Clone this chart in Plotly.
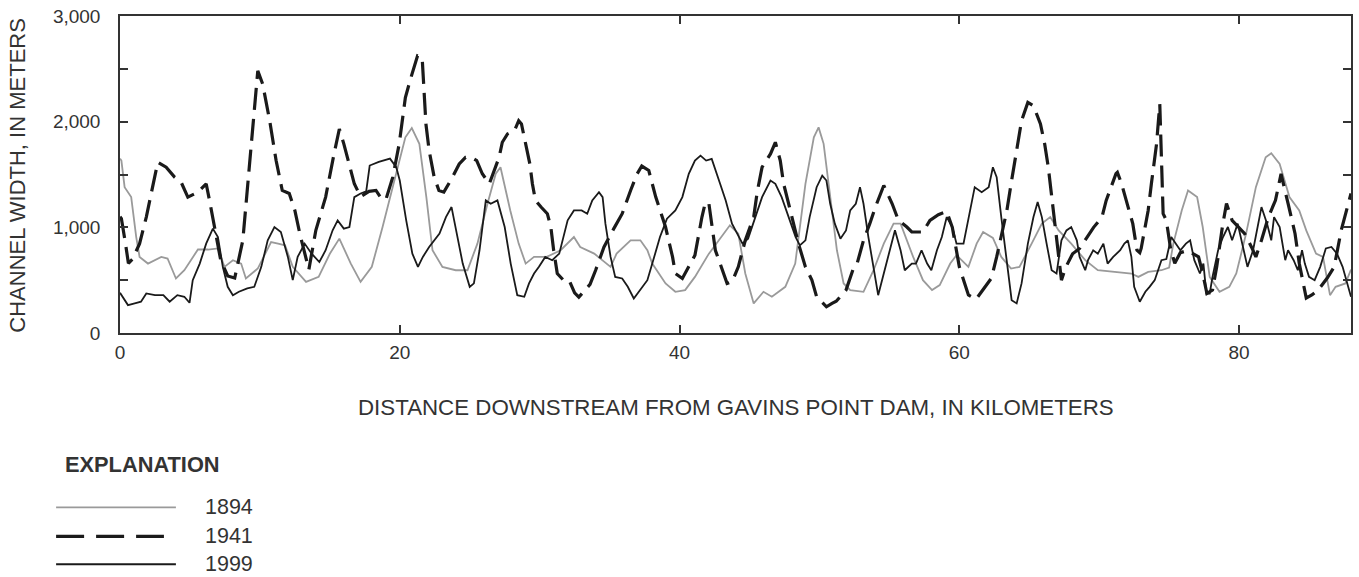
import plotly.graph_objects as go

# ---------------- data ----------------
km_1894 = [0.0, 0.1, 0.33, 0.8, 1.16, 1.4, 2.0, 2.95, 3.4, 4.0, 4.6, 5.57, 6.3, 7.0, 7.47, 8.07, 8.66, 9.0,
            9.85, 10.8, 11.3, 11.8, 12.35, 13.3, 14.2, 15.0, 15.68, 16.5, 17.2, 18.0, 18.77, 19.7, 20.4, 20.86,
            21.4, 21.9, 22.34, 23.05, 24.0, 24.84, 25.55, 26.27, 26.86, 27.2, 27.9, 28.5, 29.0, 29.6, 30.5, 31.5,
            32.45, 32.9, 33.9, 35.07, 35.5, 36.5, 37.2, 37.7, 38.05, 39.0, 39.7, 40.4, 41.1, 42.1, 43.0, 43.6,
            44.2, 44.7, 45.3, 46.0, 46.6, 47.56, 48.27, 49.0, 49.6, 49.94, 50.3, 50.8, 51.25, 51.73, 52.2, 53.15,
            53.87, 54.6, 55.3, 55.8, 56.7, 57.4, 58.05, 58.6, 59.35, 59.8, 60.65, 61.24, 61.7, 62.4, 63.0, 63.7,
            64.3, 65.17, 65.9, 66.5, 67.1, 68.0, 69.0, 69.9, 71.4, 72.3, 72.8, 73.5, 74.45, 75.0, 75.3, 75.9,
            76.35, 77.0, 77.4, 77.9, 78.6, 79.3, 79.8, 80.5, 81.2, 81.9, 82.3, 82.9, 83.6, 84.3, 84.8, 85.5,
            86.0, 86.5, 86.9, 87.6, 88.0]
width_1894 = [1650, 1632, 1380, 1286, 908, 720, 657, 720, 705, 516, 594, 790, 790, 800, 626, 689, 657, 516,
              610, 861, 846, 830, 626, 484, 531, 750, 893, 657, 484, 626, 1003, 1475, 1852, 1940,
              1790, 1286, 783, 626, 594, 594, 846, 1223, 1507, 1569, 1160, 846, 657, 720, 720, 783,
              908, 814, 751, 626, 751, 877, 877, 783, 657, 469, 390, 406, 531, 751, 908, 1019,
              940, 563, 280, 390, 343, 437, 657, 1412, 1852, 1946, 1790, 1286, 783, 469, 406, 390,
              594, 846, 1035, 1035, 720, 500, 406, 453, 657, 736, 626, 846, 956, 900, 720, 610,
              626, 846, 1035, 1097, 971, 846, 689, 594, 578, 563, 531, 578, 594, 620, 846, 1160,
              1349, 1286, 1003, 531, 390, 437, 563, 940, 1380, 1663, 1701, 1600, 1286, 1160, 971, 751,
              720, 358, 437, 469, 600]

km_1941 = [0.0, 0.1, 0.4, 0.6, 0.9, 1.4, 1.88, 2.36, 2.7, 3.3, 3.9, 4.37, 4.85, 5.57, 6.16, 6.4, 6.76, 7.2,
            7.7, 8.2, 8.78, 9.26, 9.6, 9.85, 10.2, 10.7, 11.16, 11.6, 12.1, 12.5, 12.85, 13.5, 14.0, 14.7, 15.3,
            15.68, 16.0, 16.4, 16.75, 17.2, 17.8, 18.3, 18.6, 19.0, 19.5, 19.96, 20.4, 20.8, 21.27, 21.6, 21.75,
            21.87, 22.1, 22.46, 22.8, 23.15, 23.77, 24.25, 24.7, 25.1, 25.5, 25.9, 26.4, 26.75, 27.1, 27.33, 27.7,
            28.2, 28.5, 28.7, 29.0, 29.3, 29.48, 29.7, 30.1, 30.55, 30.8, 31.0, 31.26, 31.7, 32.1, 32.5, 32.8,
            33.2, 33.6, 34.0, 34.6, 35.3, 35.9, 36.5, 36.97, 37.3, 37.8, 38.3, 38.6, 39.0, 39.5, 39.7, 40.2,
            40.65, 41.1, 41.6, 41.85, 42.1, 42.3, 42.56, 42.9, 43.4, 43.75, 44.2, 44.7, 45.3, 45.55, 45.9, 46.5,
            46.85, 47.2, 47.44, 47.8, 48.15, 48.5, 49.0, 49.46, 49.8, 50.5, 50.9, 51.2, 51.9, 52.4, 52.7, 53.15,
            53.6, 54.0, 54.6, 55.2, 55.65, 56.25, 56.6, 57.4, 57.9, 58.5, 59.1, 59.5, 60.0, 60.65, 61.2, 62.0,
            62.3, 62.67, 63.0, 63.4, 63.7, 64.1, 64.45, 64.9, 65.3, 65.8, 66.1, 66.36, 66.6, 66.83, 67.07, 67.3,
            67.6, 68.1, 68.6, 69.1, 69.6, 70.2, 70.5, 71.2, 71.3, 71.6, 72.1, 72.4, 72.7, 72.9, 73.0, 73.5,
            73.73, 74.1, 74.33, 74.45, 74.57, 74.8, 75.1, 75.4, 75.8, 76.3, 76.8, 77.1, 77.4, 77.7, 78.1, 78.4,
            78.8, 79.1, 79.5, 80.0, 80.4, 80.9, 81.2, 81.6, 82.1, 82.6, 83.0, 83.5, 84.0, 84.3, 84.8, 85.2,
            85.65, 86.3, 86.8, 87.3, 88.0]
width_1941 = [1100, 1082, 840, 660, 700, 846, 1097, 1412, 1616, 1569, 1475, 1427, 1286, 1333, 1412, 1255, 1003, 689,
              540, 520, 877, 1632, 2167, 2481, 2356, 2009, 1632, 1349, 1320, 1160, 943, 600, 972, 1286, 1695,
              1931, 1790, 1601, 1412, 1290, 1340, 1349, 1290, 1260, 1475, 1790, 2229, 2418, 2623, 2607, 2229,
              1978, 1726, 1475, 1349, 1333, 1475, 1600, 1663, 1663, 1632, 1507, 1412, 1538, 1663, 1805, 1884,
              1915, 2009, 1978, 1790, 1600, 1412, 1255, 1192, 1129, 1003, 783, 563, 500, 500, 380, 340,
              400, 460, 594, 814, 988, 1129, 1349, 1507, 1580, 1538, 1286, 1160, 1003, 720, 563, 516,
              626, 736, 1097, 1239, 1223, 1035, 783, 657, 469, 484, 626, 877, 1097, 1333, 1569, 1695,
              1805, 1632, 1412, 1223, 1035, 846, 626, 500, 343, 248, 280, 300, 406, 600, 660, 877,
              1035, 1192, 1396, 1223, 1066, 1003, 956, 956, 1066, 1120, 1150, 1000, 626, 360, 320, 470,
              520, 720, 908, 1160, 1412, 1726, 2009, 2182, 2150, 1978, 1790, 1569, 1286, 1003, 720, 500,
              620, 750, 800, 896, 1000, 1097, 1255, 1507, 1520, 1412, 1160, 1035, 783, 760, 800, 1160,
              1412, 1790, 2167, 1695, 1129, 1066, 800, 660, 760, 780, 740, 720, 563, 374, 406, 626,
              1000, 1226, 1066, 1000, 940, 810, 720, 877, 1100, 1255, 1507, 1226, 940, 660, 330, 360,
              406, 520, 626, 972, 1320]

km_1999 = [0.0, 0.1, 0.57, 1.05, 1.5, 1.88, 2.5, 3.1, 3.55, 4.1, 4.6, 4.97, 5.2, 5.7, 6.16, 6.64, 7.0, 7.35,
            7.7, 8.07, 8.5, 9.1, 9.6, 10.1, 10.56, 11.04, 11.5, 12.0, 12.35, 12.7, 13.2, 13.7, 14.25, 14.7, 15.2,
            15.56, 16.0, 16.4, 16.75, 17.2, 17.6, 17.85, 18.5, 19.3, 19.75, 20.0, 20.46, 20.9, 21.3, 21.65, 22.1,
            22.84, 23.3, 23.7, 24.1, 24.5, 25.0, 25.3, 25.7, 26.15, 26.5, 26.98, 27.5, 27.93, 28.4, 28.9, 29.24,
            29.6, 29.95, 30.4, 30.9, 31.4, 32.0, 32.45, 33.0, 33.4, 33.76, 34.24, 34.5, 34.7, 35.07, 35.4, 35.9,
            36.3, 36.73, 37.2, 37.7, 38.05, 38.6, 39.1, 39.7, 40.2, 40.66, 41.1, 41.5, 41.9, 42.3, 42.9, 43.3,
            43.75, 44.1, 44.5, 44.9, 45.4, 45.9, 46.5, 46.85, 47.3, 47.8, 48.3, 48.6, 49.0, 49.3, 49.8, 50.2,
            50.5, 50.77, 51.1, 51.5, 51.9, 52.2, 52.6, 52.9, 53.15, 53.5, 53.87, 54.2, 54.6, 55.05, 55.4, 55.8,
            56.1, 56.6, 56.9, 57.3, 57.7, 58.0, 58.4, 58.75, 59.1, 59.5, 59.8, 60.3, 60.77, 61.1, 61.6, 62.1,
            62.4, 62.67, 63.0, 63.4, 63.74, 64.1, 64.45, 64.9, 65.3, 65.6, 65.9, 66.24, 66.6, 66.95, 67.3, 67.66,
            68.0, 68.4, 68.6, 69.0, 69.2, 69.57, 69.9, 70.3, 70.6, 71.0, 71.5, 71.8, 72.05, 72.3, 72.5, 72.9,
            73.3, 73.6, 73.97, 74.45, 74.8, 75.15, 75.5, 75.8, 76.2, 76.5, 76.8, 77.2, 77.45, 77.66, 77.9, 78.1,
            78.5, 78.85, 79.2, 79.5, 79.9, 80.3, 80.6, 81.0, 81.35, 81.6, 82.0, 82.3, 82.5, 82.9, 83.3, 83.5,
            83.9, 84.2, 84.5, 84.7, 85.0, 85.4, 85.8, 86.2, 86.6, 87.0, 87.4, 87.8, 88.0]
width_1999 = [380, 358, 264, 280, 296, 374, 358, 358, 296, 358, 343, 286, 500, 657, 846, 988, 908, 626,
              437, 358, 390, 422, 437, 626, 877, 1003, 956, 720, 500, 720, 846, 751, 672, 783, 972,
              1066, 988, 1003, 1286, 1320, 1340, 1585, 1620, 1650, 1569, 1443, 1066, 751, 626, 720, 814,
              940, 1097, 1192, 940, 657, 437, 470, 783, 1255, 1223, 1255, 1003, 657, 358, 343, 469,
              563, 626, 720, 689, 751, 1066, 1160, 1160, 1129, 1255, 1333, 1286, 1035, 720, 531, 516,
              437, 327, 406, 500, 657, 908, 1082, 1160, 1286, 1507, 1632, 1679, 1632, 1648, 1412, 1255,
              1035, 940, 846, 893, 1097, 1286, 1443, 1412, 1286, 1097, 908, 830, 877, 1097, 1380, 1490,
              1443, 1223, 1035, 893, 971, 1160, 1223, 1380, 1223, 908, 594, 358, 563, 783, 972, 783,
              594, 657, 657, 783, 657, 594, 783, 908, 1097, 1003, 846, 846, 1160, 1380, 1333, 1380,
              1569, 1475, 1097, 657, 311, 280, 469, 846, 1097, 1239, 1097, 846, 594, 563, 877, 971,
              1003, 877, 720, 594, 689, 783, 751, 846, 657, 720, 783, 846, 877, 720, 437, 296,
              390, 437, 500, 689, 700, 908, 846, 783, 846, 877, 689, 563, 657, 374, 374, 531,
              783, 908, 1003, 877, 1035, 783, 626, 783, 1035, 1192, 1035, 877, 1097, 1003, 689, 783,
              689, 594, 783, 657, 531, 500, 626, 800, 814, 751, 626, 437, 343]

x_ticks = [0, 20, 40, 60, 80]
y_ticks = [0, 500, 1000, 1500, 2000, 2500, 3000]
y_ticktext = ["0", "", "1,000", "", "2,000", "", "3,000"]

series_names = ["1894", "1941", "1999"]

# ---------------- figure ----------------
FONT = "Liberation Sans, Arial, sans-serif"
TXT = "#333333"
GRAY = "#9a9a9a"
BLACK = "#1a1a1a"

fig = go.Figure()
fig.add_trace(go.Scatter(x=km_1894, y=width_1894, mode="lines", name=series_names[0],
                         line=dict(color=GRAY, width=1.8)))
fig.add_trace(go.Scatter(x=km_1941, y=width_1941, mode="lines", name=series_names[1],
                         line=dict(color=BLACK, width=3.2, dash="22px,9px")))
fig.add_trace(go.Scatter(x=km_1999, y=width_1999, mode="lines", name=series_names[2],
                         line=dict(color=BLACK, width=1.8)))

L, R, T, B = 120, 6, 15, 244
W, H = 1359, 577
PW, PH = W - L - R, H - T - B


def px_x(px):
    return (px - L) / PW


def px_y(py):
    return (H - B - py) / PH


fig.update_layout(
    width=W, height=H, autosize=False,
    margin=dict(l=L, r=R, t=T, b=B, pad=0),
    paper_bgcolor="white", plot_bgcolor="white",
    showlegend=False,
    font=dict(family=FONT, size=19, color=TXT),
)
fig.update_xaxes(
    range=[0, 88], tickvals=x_ticks, ticks="inside", ticklen=8, tickwidth=1.5, tickcolor="#333",
    showline=True, linecolor="#333", linewidth=1.5, mirror="ticks", showgrid=False, zeroline=False,
    tickfont=dict(size=19, color=TXT, family=FONT), ticklabelstandoff=1,
)
fig.update_yaxes(
    range=[0, 3000], tickvals=y_ticks, ticktext=y_ticktext, ticks="inside", ticklen=8, tickwidth=1.5,
    tickcolor="#333", showline=True, linecolor="#333", linewidth=1.5, mirror="ticks", showgrid=False,
    zeroline=False, tickfont=dict(size=19, color=TXT, family=FONT), ticklabelstandoff=14,
)

ann = []
ann.append(dict(text="DISTANCE DOWNSTREAM FROM GAVINS POINT DAM, IN KILOMETERS", xref="paper", yref="paper",
                x=0.5, y=px_y(408), xanchor="center", yanchor="middle", showarrow=False,
                font=dict(size=22.3, color=TXT, family=FONT)))
ann.append(dict(text="CHANNEL WIDTH, IN METERS", xref="paper", yref="paper", textangle=-90,
                x=px_x(17), y=px_y(175), xanchor="center", yanchor="middle", showarrow=False,
                font=dict(size=22, color=TXT, family=FONT)))
ann.append(dict(text="<b>EXPLANATION</b>", xref="paper", yref="paper", x=px_x(63), y=px_y(465),
                xanchor="left", yanchor="middle", showarrow=False,
                font=dict(size=21.8, color=TXT, family=FONT)))

legend_rows = [(508, GRAY, 1.8, "solid", 176), (537, BLACK, 3.2, "28px,12px", 164), (565, BLACK, 1.8, "solid", 176)]
shapes = []
for name, (py, col, w, dash, xend) in zip(series_names, legend_rows):
    shapes.append(dict(type="line", xref="paper", yref="paper", x0=px_x(56), x1=px_x(xend),
                       y0=px_y(py), y1=px_y(py), line=dict(color=col, width=w, dash=dash)))
    ann.append(dict(text=name, xref="paper", yref="paper", x=px_x(203), y=px_y(py),
                    xanchor="left", yanchor="middle", showarrow=False,
                    font=dict(size=21.5, color=TXT, family=FONT)))

fig.update_layout(annotations=ann, shapes=shapes)
fig.write_html("out.html")
